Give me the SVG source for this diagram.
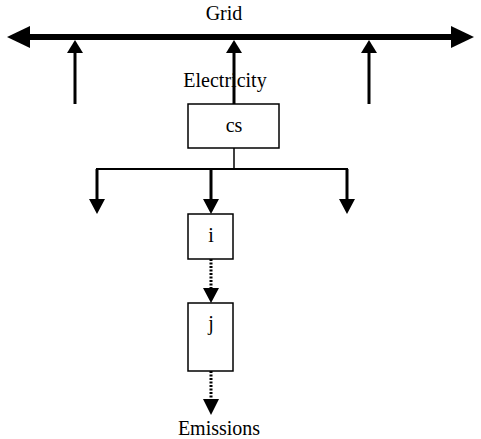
<svg xmlns="http://www.w3.org/2000/svg" width="481" height="439" viewBox="0 0 481 439">
<style>
text{font-family:"Liberation Serif","Times New Roman",serif;font-size:20px;fill:#000;text-anchor:middle}
.box{fill:#fff;stroke:#000;stroke-width:1.5}
.ln{stroke:#000;fill:none}
.ah{fill:#000}
</style>
<rect width="481" height="439" fill="#fff"/>
<g id="connectors">
<line class="ln" x1="28" y1="37" x2="454" y2="37" stroke-width="6"/>
<polygon class="ah" points="7,37 30,26 30,48"/>
<polygon class="ah" points="474,37 451,26 451,48"/>
<line class="ln" x1="75" y1="104" x2="75" y2="52" stroke-width="3"/>
<polygon class="ah" points="75,40 67,53 83,53"/>
<line class="ln" x1="234" y1="104" x2="234" y2="52" stroke-width="3"/>
<polygon class="ah" points="234,40 226,53 242,53"/>
<line class="ln" x1="369" y1="104" x2="369" y2="52" stroke-width="3"/>
<polygon class="ah" points="369,40 361,53 377,53"/>
<polyline class="ln" points="234,148 234,169" stroke-width="1.5"/>
<line class="ln" x1="96" y1="169" x2="348" y2="169" stroke-width="2"/>
<line class="ln" x1="97" y1="169" x2="97" y2="201" stroke-width="3"/>
<polygon class="ah" points="97,214 89,199 105,199"/>
<line class="ln" x1="211" y1="169" x2="211" y2="201" stroke-width="3"/>
<polygon class="ah" points="211,214 203,199 219,199"/>
<line class="ln" x1="347" y1="169" x2="347" y2="201" stroke-width="3"/>
<polygon class="ah" points="347,214 339,199 355,199"/>
<line class="ln" x1="211" y1="259" x2="211" y2="290" stroke-width="3" stroke-dasharray="2,1.5"/>
<polygon class="ah" points="211,303 203,288 219,288"/>
<line class="ln" x1="211" y1="371" x2="211" y2="401" stroke-width="3" stroke-dasharray="2,1.5"/>
<polygon class="ah" points="211,415 203,399 219,399"/>
</g>
<text x="224" y="20">Grid</text>
<text x="225" y="87">Electricity</text>
<g id="cs"><rect class="box" x="188" y="104" width="91" height="44"/><text x="234" y="132">cs</text></g>
<g id="i"><rect class="box" x="188" y="214" width="45" height="45"/><text x="211" y="242">i</text></g>
<g id="j"><rect class="box" x="188" y="303" width="45" height="68"/><text x="211" y="330">j</text></g>
<text x="219" y="435">Emissions</text>
</svg>
